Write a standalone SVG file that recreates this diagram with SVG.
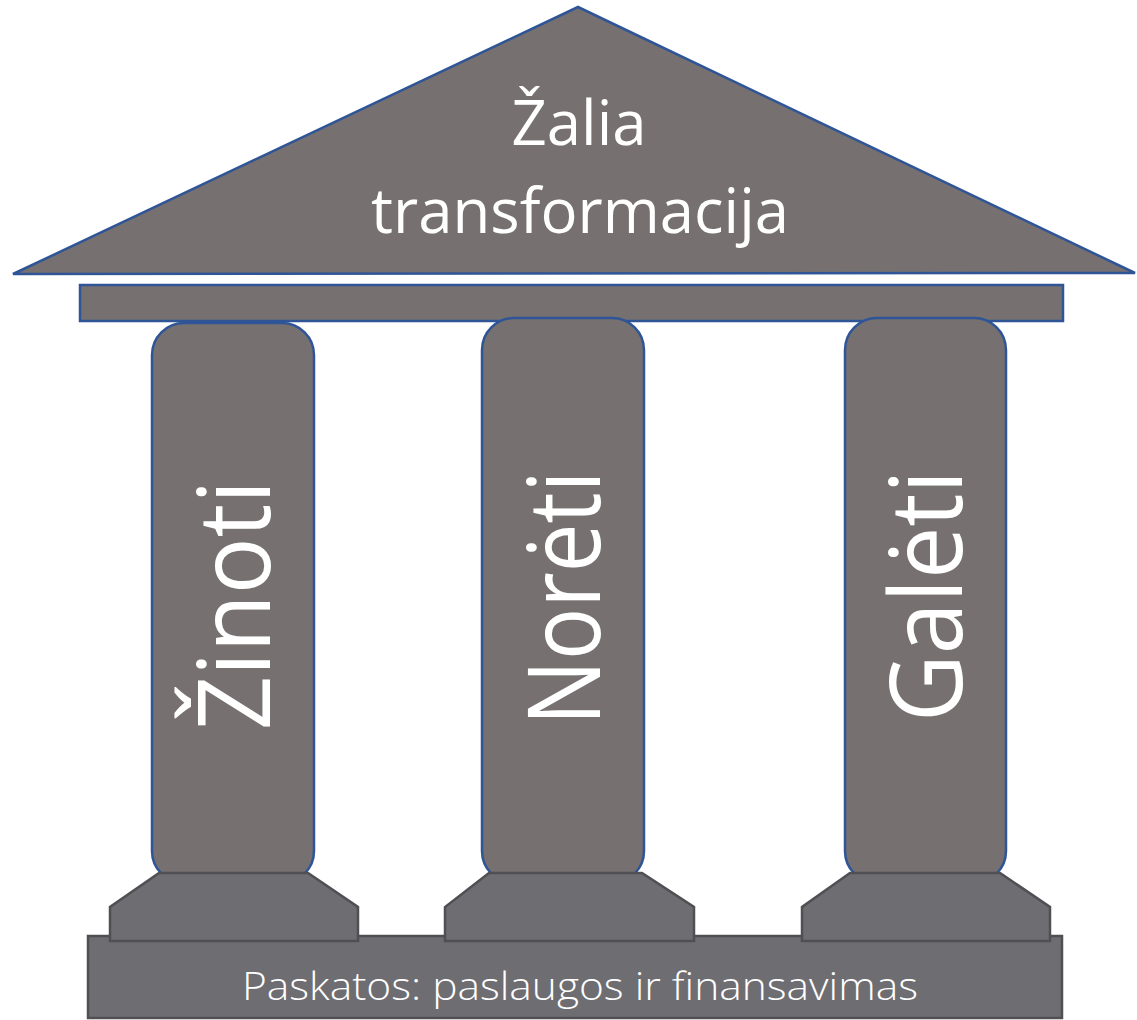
<svg xmlns="http://www.w3.org/2000/svg" width="1137" height="1020" viewBox="0 0 1137 1020">
<style>
.blue{fill:#767170;stroke:#2f5597;stroke-width:2.5}
.ped{fill:#6e6d72;stroke:#505054;stroke-width:2.5}
.t{fill:#ffffff;font-family:"Open Sans","Liberation Sans",sans-serif;font-weight:400;text-anchor:middle}
.lt{font-weight:300}
</style>
<rect width="1137" height="1020" fill="#ffffff"/>
<g id="base">
<rect class="ped" x="88" y="936" width="974" height="82" stroke="#4d4d50" stroke-width="3"/>
<text class="t lt" x="580" y="1000" font-size="38" textLength="676" lengthAdjust="spacingAndGlyphs">Paskatos: paslaugos ir finansavimas</text>
</g>
<g id="roof">
<polygon class="blue" points="578,7 13,274 1135,273"/>
<text class="t" x="579" y="145" font-size="62" textLength="135" lengthAdjust="spacingAndGlyphs">Žalia</text>
<text class="t" x="580" y="233" font-size="62" textLength="418" lengthAdjust="spacingAndGlyphs">transformacija</text>
</g>
<g id="beam">
<rect class="blue" x="80" y="285" width="983" height="36"/>
</g>
<g id="pillar1">
<rect class="blue" x="152" y="323" width="162" height="560" rx="32" ry="32"/>
<polygon class="ped" points="159,873 308,873 358,907 358,941 110,941 110,907"/>
<text class="t" transform="translate(270,605) rotate(-90)" font-size="100" textLength="250" lengthAdjust="spacingAndGlyphs">Žinoti</text>
</g>
<g id="pillar2">
<rect class="blue" x="482" y="318" width="162" height="565" rx="32" ry="32"/>
<polygon class="ped" points="489,873 642,873 694,907 694,941 445,941 445,907"/>
<text class="t" transform="translate(600,598) rotate(-90)" font-size="100" textLength="255" lengthAdjust="spacingAndGlyphs">Norėti</text>
</g>
<g id="pillar3">
<rect class="blue" x="845" y="318" width="161" height="565" rx="32" ry="32"/>
<polygon class="ped" points="850,873 1000,873 1050,907 1050,941 802,941 802,907"/>
<text class="t" transform="translate(962,596) rotate(-90)" font-size="100" textLength="252" lengthAdjust="spacingAndGlyphs">Galėti</text>
</g>
</svg>
